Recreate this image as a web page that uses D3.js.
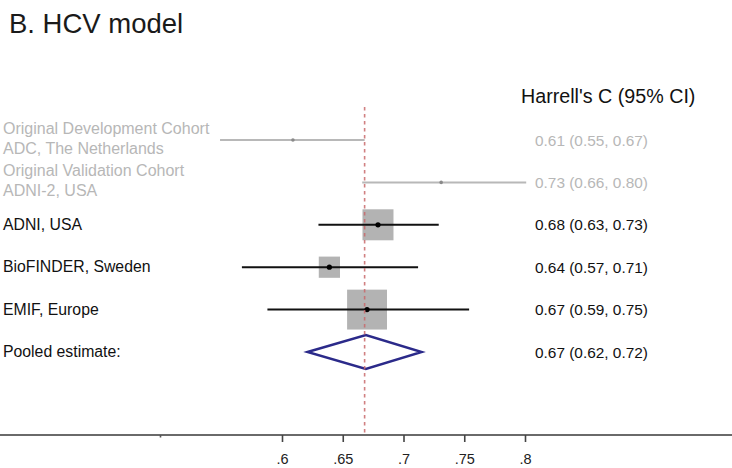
<!DOCTYPE html>
<html>
<head>
<meta charset="utf-8">
<script src="https://cdn.jsdelivr.net/npm/d3@7/dist/d3.min.js"></script>
<style>
  html, body { margin: 0; padding: 0; background: #fff; }
  svg { display: block; font-family: "Liberation Sans", Arial, sans-serif; }
</style>
</head>
<body>
<svg id="chart" width="732" height="468"></svg>
<script>
// ---- data ----
const labels = [
  ["Original Development Cohort", "ADC, The Netherlands"],
  ["Original Validation Cohort", "ADNI-2, USA"],
  ["ADNI, USA"],
  ["BioFINDER, Sweden"],
  ["EMIF, Europe"],
  ["Pooled estimate:"]
];
const rowType   = ["prior", "prior", "study", "study", "study", "pooled"];
const estimates = [0.609, 0.731, 0.679, 0.639, 0.670, 0.669];
const lower     = [0.549, 0.666, 0.630, 0.567, 0.588, 0.621];
const upper     = [0.668, 0.801, 0.729, 0.712, 0.754, 0.715];
const weights   = [null, null, 32, 15, 53, null];
const ciText    = ["0.61 (0.55, 0.67)", "0.73 (0.66, 0.80)", "0.68 (0.63, 0.73)",
                   "0.64 (0.57, 0.71)", "0.67 (0.59, 0.75)", "0.67 (0.62, 0.72)"];
const tickValues = [0.6, 0.65, 0.7, 0.75, 0.8];
const tickLabels = [".6", ".65", ".7", ".75", ".8"];
const minorTicks = [0.5];
const refLine = 0.668;
const title = "B. HCV model";
const header = "Harrell's C (95% CI)";

// ---- layout ----
const W = 732, H = 468;
const svg = d3.select("#chart");
const x = d3.scaleLinear().domain([0.6, 0.8]).range([282, 525]);
const y = d3.scaleLinear().domain([0, labels.length - 1]).range([140, 352]);
const boxSide = d3.scaleSqrt().domain([0, 100]).range([0, 54.8]);
const axisY = 435;

const grey = "#b7b7b7";

// title
svg.append("text").attr("x", 9).attr("y", 33)
  .attr("font-size", 27.5).attr("fill", "#1a1a1a").text(title);

// header
svg.append("text").attr("x", 521).attr("y", 103)
  .attr("font-size", 19.7).attr("fill", "#111").text(header);

// left labels
labels.forEach((lines, i) => {
  const col = rowType[i] === "prior" ? grey : "#111";
  const t = svg.append("text").attr("font-size", rowType[i] === "prior" ? 16 : 15.8).attr("fill", col);
  if (lines.length === 1) {
    t.append("tspan").attr("x", 3).attr("y", y(i) + 5).text(lines[0]);
  } else {
    t.append("tspan").attr("x", 3).attr("y", y(i) - 6).text(lines[0]);
    t.append("tspan").attr("x", 3).attr("y", y(i) + 13.5).text(lines[1]);
  }
});

// right CI text
ciText.forEach((s, i) => {
  svg.append("text").attr("x", 535).attr("y", y(i) + 5.5)
    .attr("font-size", 15.4)
    .attr("fill", rowType[i] === "prior" ? grey : "#111")
    .text(s);
});

// boxes for studies
const idx = d3.range(labels.length);
const studyIdx = idx.filter(i => rowType[i] === "study");
svg.append("g").selectAll("rect").data(studyIdx).join("rect")
  .attr("x", i => x(estimates[i]) - boxSide(weights[i]) / 2)
  .attr("y", i => y(i) - boxSide(weights[i]) / 2)
  .attr("width", i => boxSide(weights[i]))
  .attr("height", i => boxSide(weights[i]))
  .attr("fill", "#b3b3b3");

// CI lines
const ciIdx = idx.filter(i => rowType[i] !== "pooled");
svg.append("g").selectAll("line").data(ciIdx).join("line")
  .attr("x1", i => x(lower[i])).attr("x2", i => x(upper[i]))
  .attr("y1", i => y(i)).attr("y2", i => y(i))
  .attr("stroke", i => rowType[i] === "prior" ? "#b8b8b8" : "#111")
  .attr("stroke-width", 2);

// point estimates
svg.append("g").selectAll("circle").data(ciIdx).join("circle")
  .attr("cx", i => x(estimates[i])).attr("cy", i => y(i))
  .attr("r", i => rowType[i] === "prior" ? 1.8 : 2.6)
  .attr("fill", i => rowType[i] === "prior" ? "#8a8a8a" : "#000");

// pooled diamond
const pooledIdx = idx.filter(i => rowType[i] === "pooled");
svg.append("g").selectAll("path").data(pooledIdx).join("path")
  .attr("d", i => {
    const cy = y(i), h = 17;
    return `M${x(lower[i])},${cy} L${x(estimates[i])},${cy - h} L${x(upper[i])},${cy} L${x(estimates[i])},${cy + h} Z`;
  })
  .attr("fill", "none").attr("stroke", "#2b2a8a").attr("stroke-width", 2.4)
  .attr("stroke-linejoin", "miter");

// reference dashed line
svg.append("line")
  .attr("x1", x(refLine)).attr("x2", x(refLine))
  .attr("y1", 107).attr("y2", axisY)
  .attr("stroke", "#c96a6c").attr("stroke-width", 1.6)
  .attr("stroke-dasharray", "3.5,3.5").attr("opacity", 0.85);

// axis baseline across full width
svg.append("line").attr("x1", 0).attr("x2", W).attr("y1", axisY).attr("y2", axisY)
  .attr("stroke", "#6a6a6a").attr("stroke-width", 1.8);

// axis ticks
const axis = d3.axisBottom(x)
  .tickValues(tickValues)
  .tickFormat((d, i) => tickLabels[i])
  .tickSize(7).tickPadding(12);
const gAxis = svg.append("g").attr("transform", `translate(0,${axisY})`).call(axis);
gAxis.select(".domain").remove();
gAxis.selectAll(".tick line").attr("stroke", "#444").attr("stroke-width", 1.6);
gAxis.selectAll(".tick text").attr("font-size", 14.5).attr("fill", "#222")
  .attr("font-family", "\"Liberation Sans\", Arial, sans-serif");

// minor ticks (unlabelled)
svg.append("g").selectAll("line").data(minorTicks).join("line")
  .attr("x1", d => x(d)).attr("x2", d => x(d))
  .attr("y1", axisY).attr("y2", axisY + 2.5)
  .attr("stroke", "#555").attr("stroke-width", 1.6);
</script>
</body>
</html>
